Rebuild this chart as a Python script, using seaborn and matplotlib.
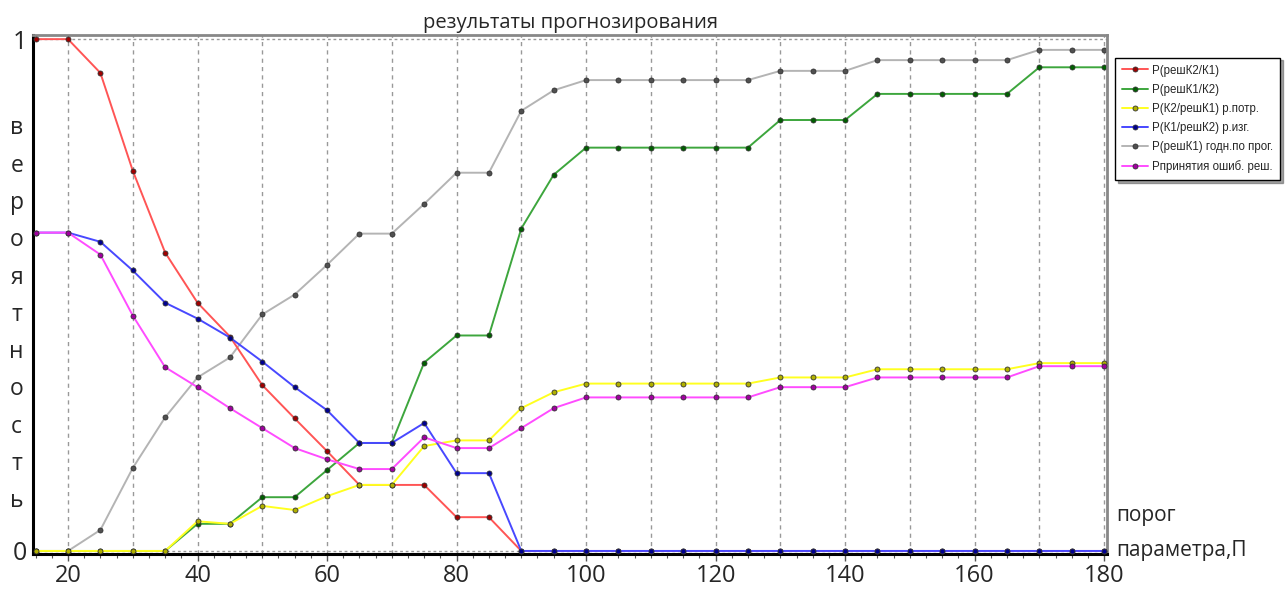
import numpy as np
import pandas as pd
import seaborn as sns
import matplotlib.pyplot as plt
from matplotlib.ticker import MultipleLocator

# данные (порог параметра П от 15 до 180 с шагом 5)
porog = list(range(15, 185, 5))

p_resh_k2_k1 = [1.0, 1.0, 0.934, 0.743, 0.583, 0.485, 0.419, 0.324, 0.259, 0.195,
                0.129, 0.129, 0.129, 0.066, 0.066, 0.0, 0.0, 0.0, 0.0, 0.0,
                0.0, 0.0, 0.0, 0.0, 0.0, 0.0, 0.0, 0.0, 0.0, 0.0,
                0.0, 0.0, 0.0, 0.0]
p_resh_k1_k2 = [0.0, 0.0, 0.0, 0.0, 0.0, 0.053, 0.053, 0.105, 0.105, 0.158,
                0.211, 0.211, 0.368, 0.421, 0.421, 0.630, 0.735, 0.788, 0.788, 0.788,
                0.788, 0.788, 0.788, 0.842, 0.842, 0.842, 0.893, 0.893, 0.893, 0.893,
                0.893, 0.945, 0.945, 0.945]
p_k2_resh_k1 = [0.0, 0.0, 0.0, 0.0, 0.0, 0.058, 0.053, 0.088, 0.080, 0.107,
                0.129, 0.129, 0.205, 0.216, 0.216, 0.279, 0.310, 0.327, 0.327, 0.327,
                0.327, 0.327, 0.327, 0.339, 0.339, 0.339, 0.355, 0.355, 0.355, 0.355,
                0.355, 0.367, 0.367, 0.367]
p_k1_resh_k2 = [0.622, 0.622, 0.604, 0.548, 0.485, 0.454, 0.417, 0.370, 0.320, 0.275,
                0.211, 0.211, 0.250, 0.152, 0.152, 0.0, 0.0, 0.0, 0.0, 0.0,
                0.0, 0.0, 0.0, 0.0, 0.0, 0.0, 0.0, 0.0, 0.0, 0.0,
                0.0, 0.0, 0.0, 0.0]
p_resh_k1 = [0.0, 0.0, 0.041, 0.162, 0.261, 0.339, 0.378, 0.462, 0.501, 0.559,
             0.620, 0.620, 0.678, 0.739, 0.739, 0.860, 0.900, 0.920, 0.920, 0.920,
             0.920, 0.920, 0.920, 0.938, 0.938, 0.938, 0.959, 0.959, 0.959, 0.959,
             0.959, 0.979, 0.979, 0.979]
p_oshib = [0.622, 0.622, 0.579, 0.460, 0.359, 0.320, 0.279, 0.240, 0.201, 0.179,
           0.160, 0.160, 0.222, 0.201, 0.201, 0.240, 0.279, 0.300, 0.300, 0.300,
           0.300, 0.300, 0.300, 0.320, 0.320, 0.320, 0.339, 0.339, 0.339, 0.339,
           0.339, 0.361, 0.361, 0.361]

names = ["P(решК2/К1)", "P(решК1/К2)", "P(К2/решК1) р.потр.",
         "P(К1/решК2) р.изг.", "P(решК1) годн.по прог.", "Рпринятия ошиб. реш."]
series = [p_resh_k2_k1, p_resh_k1_k2, p_k2_resh_k1, p_k1_resh_k2, p_resh_k1, p_oshib]

df = pd.DataFrame({"порог": porog})
for n, s in zip(names, series):
    df[n] = s

line_colors = ["#ff5555", "#3da63d", "#ffff20", "#4848ff", "#b4b4b4", "#ff4cff"]
face_colors = ["#a00000", "#006000", "#b0b000", "#000090", "#505050", "#a000a0"]
zorders = [3, 2, 4, 5, 1, 6]

sns.set_style("white")
plt.rcParams['font.family'] = ['Open Sans', 'DejaVu Sans']

fig = plt.figure(figsize=(12.85, 5.94), dpi=100)
ax = fig.add_axes([0.0257, 0.0673, 0.8358, 0.8737])

for n, lc, fc, z in zip(names, line_colors, face_colors, zorders):
    sns.lineplot(data=df, x="порог", y=n, ax=ax, color=lc, linewidth=1.4,
                 marker="o", markersize=3.6, markerfacecolor=fc,
                 markeredgecolor="#333333", markeredgewidth=0.6,
                 label=n, zorder=z)

# сетка: вертикальные штриховые линии и пунктир на 0 и 1
for xv in range(20, 190, 10):
    ax.axvline(xv, color="#999999", linestyle=(0, (3, 3)), linewidth=1.0, zorder=0)
for yv in [0, 1]:
    ax.axhline(yv, color="#999999", linestyle=(0, (2, 2)), linewidth=1.0, zorder=0)

ax.set_xlim(14.6, 180.45)
ax.set_ylim(-0.006, 1.008)
ax.set_xticks([20, 40, 60, 80, 100, 120, 140, 160, 180])
ax.xaxis.set_minor_locator(MultipleLocator(2.5))
ax.set_yticks([0, 1])
ax.set_yticklabels(["0", "1"])
ax.tick_params(axis="x", which="major", labelsize=17, length=5, width=1, direction="out", pad=2, color="#555555")
ax.tick_params(axis="x", which="minor", length=3, width=0.8, direction="out", color="#555555")
ax.tick_params(axis="y", labelsize=18, length=0, pad=4)
ax.xaxis.set_ticks_position("bottom")

for side in ["left", "bottom"]:
    ax.spines[side].set_color("black")
    ax.spines[side].set_linewidth(2.2)
for side in ["top", "right"]:
    ax.spines[side].set_color("#888888")
    ax.spines[side].set_linewidth(2.0)

ax.set_xlabel("")
ax.set_ylabel("")
ax.set_title("результаты прогнозирования", fontsize=14.5, pad=5)

# подпись оси Y буквами по вертикали
fig.text(0.013, 0.47, "\n".join("вероятность"), fontsize=16.5, ha="center", va="center",
         linespacing=1.74)
# подпись оси X справа
fig.text(0.8685, 0.132, "порог", fontsize=15, ha="left", va="center")
fig.text(0.8685, 0.073, "параметра,П", fontsize=15, ha="left", va="center")

leg = ax.legend(loc="upper left", bbox_to_anchor=(0.868, 0.903), bbox_transform=fig.transFigure,
                prop={"family": "Liberation Sans", "size": 8.3}, frameon=True, fancybox=False,
                shadow=True, borderaxespad=0, handlelength=2.2, handletextpad=0.4,
                labelspacing=0.62, borderpad=0.6)
leg.get_frame().set_edgecolor("black")
leg.get_frame().set_linewidth(1.0)

fig.savefig("out.png", dpi=100)
